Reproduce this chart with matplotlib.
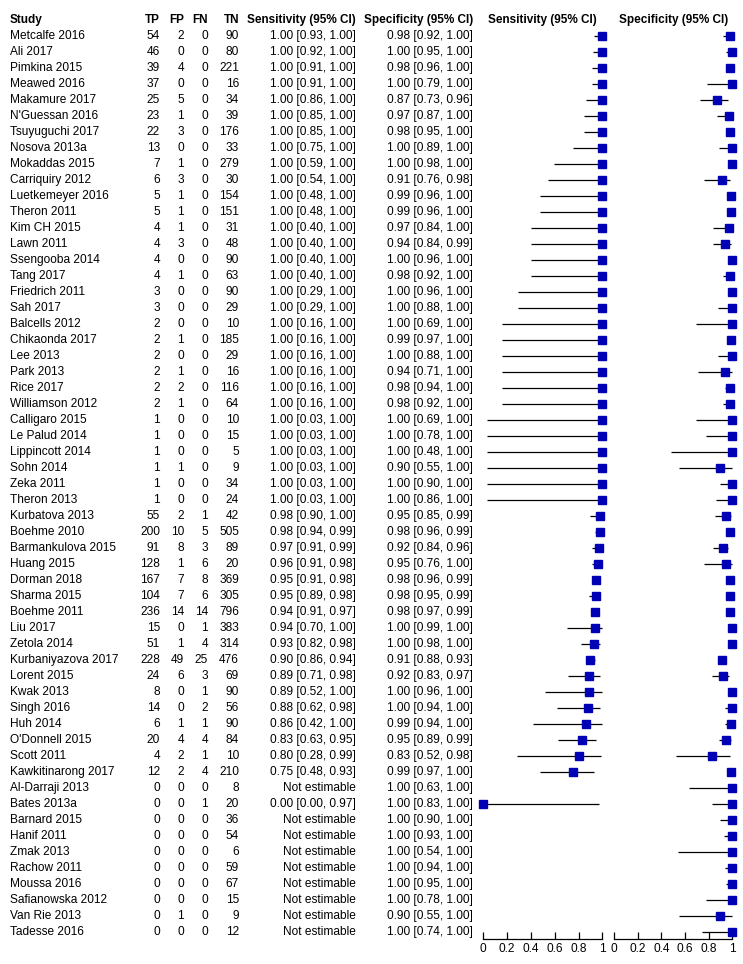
import numpy as np
import matplotlib
matplotlib.use("Agg")
import matplotlib.pyplot as plt

nan = np.nan

studies = ["Metcalfe 2016", "Ali 2017", "Pimkina 2015", "Meawed 2016", "Makamure 2017",
           "N'Guessan 2016", "Tsuyuguchi 2017", "Nosova 2013a", "Mokaddas 2015", "Carriquiry 2012",
           "Luetkemeyer 2016", "Theron 2011", "Kim CH 2015", "Lawn 2011", "Ssengooba 2014",
           "Tang 2017", "Friedrich 2011", "Sah 2017", "Balcells 2012", "Chikaonda 2017",
           "Lee 2013", "Park 2013", "Rice 2017", "Williamson 2012", "Calligaro 2015",
           "Le Palud 2014", "Lippincott 2014", "Sohn 2014", "Zeka 2011", "Theron 2013",
           "Kurbatova 2013", "Boehme 2010", "Barmankulova 2015", "Huang 2015", "Dorman 2018",
           "Sharma 2015", "Boehme 2011", "Liu 2017", "Zetola 2014", "Kurbaniyazova 2017",
           "Lorent 2015", "Kwak 2013", "Singh 2016", "Huh 2014", "O'Donnell 2015",
           "Scott 2011", "Kawkitinarong 2017", "Al-Darraji 2013", "Bates 2013a", "Barnard 2015",
           "Hanif 2011", "Zmak 2013", "Rachow 2011", "Moussa 2016", "Safianowska 2012",
           "Van Rie 2013", "Tadesse 2016"]

tp = [54, 46, 39, 37, 25, 23, 22, 13, 7, 6, 5, 5, 4, 4, 4, 4, 3, 3, 2, 2, 2, 2, 2, 2, 1, 1, 1, 1, 1, 1,
      55, 200, 91, 128, 167, 104, 236, 15, 51, 228, 24, 8, 14, 6, 20, 4, 12, 0, 0, 0, 0, 0, 0, 0, 0, 0, 0]
fp = [2, 0, 4, 0, 5, 1, 3, 0, 1, 3, 1, 1, 1, 3, 0, 1, 0, 0, 0, 1, 0, 1, 2, 1, 0, 0, 0, 1, 0, 0,
      2, 10, 8, 1, 7, 7, 14, 0, 1, 49, 6, 0, 0, 1, 4, 2, 2, 0, 0, 0, 0, 0, 0, 0, 0, 1, 0]
fn = [0, 0, 0, 0, 0, 0, 0, 0, 0, 0, 0, 0, 0, 0, 0, 0, 0, 0, 0, 0, 0, 0, 0, 0, 0, 0, 0, 0, 0, 0,
      1, 5, 3, 6, 8, 6, 14, 1, 4, 25, 3, 1, 2, 1, 4, 1, 4, 0, 1, 0, 0, 0, 0, 0, 0, 0, 0]
tn = [90, 80, 221, 16, 34, 39, 176, 33, 279, 30, 154, 151, 31, 48, 90, 63, 90, 29, 10, 185,
      29, 16, 116, 64, 10, 15, 5, 9, 34, 24,
      42, 505, 89, 20, 369, 305, 796, 383, 314, 476, 69, 90, 56, 90, 84, 10, 210,
      8, 20, 36, 54, 6, 59, 67, 15, 9, 12]

sens = [1.00] * 30 + [0.98, 0.98, 0.97, 0.96, 0.95, 0.95, 0.94, 0.94, 0.93, 0.90,
                      0.89, 0.89, 0.88, 0.86, 0.83, 0.80, 0.75,
                      nan, 0.00, nan, nan, nan, nan, nan, nan, nan, nan]
sens_lo = [0.93, 0.92, 0.91, 0.91, 0.86, 0.85, 0.85, 0.75, 0.59, 0.54, 0.48, 0.48, 0.40, 0.40, 0.40,
           0.40, 0.29, 0.29, 0.16, 0.16, 0.16, 0.16, 0.16, 0.16, 0.03, 0.03, 0.03, 0.03, 0.03, 0.03,
           0.90, 0.94, 0.91, 0.91, 0.91, 0.89, 0.91, 0.70, 0.82, 0.86, 0.71, 0.52, 0.62, 0.42, 0.63,
           0.28, 0.48, nan, 0.00, nan, nan, nan, nan, nan, nan, nan, nan]
sens_hi = [1.00] * 30 + [1.00, 0.99, 0.99, 0.98, 0.98, 0.98, 0.97, 1.00, 0.98, 0.94,
                         0.98, 1.00, 0.98, 1.00, 0.95, 0.99, 0.93,
                         nan, 0.97, nan, nan, nan, nan, nan, nan, nan, nan]

spec = [0.98, 1.00, 0.98, 1.00, 0.87, 0.97, 0.98, 1.00, 1.00, 0.91, 0.99, 0.99, 0.97, 0.94, 1.00,
        0.98, 1.00, 1.00, 1.00, 0.99, 1.00, 0.94, 0.98, 0.98, 1.00, 1.00, 1.00, 0.90, 1.00, 1.00,
        0.95, 0.98, 0.92, 0.95, 0.98, 0.98, 0.98, 1.00, 1.00, 0.91, 0.92, 1.00, 1.00, 0.99, 0.95,
        0.83, 0.99, 1.00, 1.00, 1.00, 1.00, 1.00, 1.00, 1.00, 1.00, 0.90, 1.00]
spec_lo = [0.92, 0.95, 0.96, 0.79, 0.73, 0.87, 0.95, 0.89, 0.98, 0.76, 0.96, 0.96, 0.84, 0.84, 0.96,
           0.92, 0.96, 0.88, 0.69, 0.97, 0.88, 0.71, 0.94, 0.92, 0.69, 0.78, 0.48, 0.55, 0.90, 0.86,
           0.85, 0.96, 0.84, 0.76, 0.96, 0.95, 0.97, 0.99, 0.98, 0.88, 0.83, 0.96, 0.94, 0.94, 0.89,
           0.52, 0.97, 0.63, 0.83, 0.90, 0.93, 0.54, 0.94, 0.95, 0.78, 0.55, 0.74]
spec_hi = [1.00, 1.00, 1.00, 1.00, 0.96, 1.00, 1.00, 1.00, 1.00, 0.98, 1.00, 1.00, 1.00, 0.99, 1.00,
           1.00, 1.00, 1.00, 1.00, 1.00, 1.00, 1.00, 1.00, 1.00, 1.00, 1.00, 1.00, 1.00, 1.00, 1.00,
           0.99, 0.99, 0.96, 1.00, 0.99, 0.99, 0.99, 1.00, 1.00, 0.93, 0.97, 1.00, 1.00, 1.00, 0.99,
           0.98, 1.00, 1.00, 1.00, 1.00, 1.00, 1.00, 1.00, 1.00, 1.00, 1.00, 1.00]

tick_vals = [0, 0.2, 0.4, 0.6, 0.8, 1]
tick_labels = ["0", "0.2", "0.4", "0.6", "0.8", "1"]

plt.rcParams['font.family'] = ['Liberation Sans', 'DejaVu Sans']
FS = 8.6
HFS = 8.5
BLUE = "#0000b4"

W, H = 743, 964
fig = plt.figure(figsize=(W / 100, H / 100), dpi=100)

n = len(studies)
row_top, row_h = 36, 16
bottom_px, top_px = 939, 27
y0 = n - 1 + (bottom_px - (row_top + row_h * (n - 1))) / row_h
y1 = -(row_top - top_px) / row_h
ax_b = 1 - bottom_px / H
ax_h = (bottom_px - top_px) / H


def fmt(v, lo, hi):
    if np.isnan(v):
        return "Not estimable"
    return f"{v:.2f} [{lo:.2f}, {hi:.2f}]"


# table
tab = fig.add_axes([0, ax_b, 1, ax_h])
tab.set_xlim(0, W)
tab.set_ylim(y0, y1)
tab.axis("off")

hy = y1 - 0.45
cols = [("TP", 160), ("FP", 184), ("FN", 208), ("TN", 239),
        ("Sensitivity (95% CI)", 356), ("Specificity (95% CI)", 473)]
tab.text(10, hy, "Study", fontsize=HFS, fontweight="bold", va="center", ha="left", clip_on=False)
for name, xr in cols:
    tab.text(xr, hy, name, fontsize=HFS, fontweight="bold", va="center", ha="right", clip_on=False)

for i in range(n):
    tab.text(10, i, studies[i], fontsize=FS, va="center", ha="left")
    for val, (_, xr) in zip([tp[i], fp[i], fn[i], tn[i]], cols[:4]):
        tab.text(xr, i, str(val), fontsize=FS, va="center", ha="right")
    tab.text(cols[4][1], i, fmt(sens[i], sens_lo[i], sens_hi[i]), fontsize=FS, va="center", ha="right")
    tab.text(cols[5][1], i, fmt(spec[i], spec_lo[i], spec_hi[i]), fontsize=FS, va="center", ha="right")


def forest(left, width, val, lo, hi, title):
    ax = fig.add_axes([left / W, ax_b, width / W, ax_h])
    ax.set_xlim(0, 1)
    ax.set_ylim(y0, y1)
    ys = np.arange(n)
    ax.hlines(ys, lo, hi, color="black", lw=0.9, clip_on=False)
    ax.plot(val, ys, "s", ms=5.2, mfc=BLUE, mec=BLUE, lw=0, clip_on=False)
    for s in ["top", "left", "right"]:
        ax.spines[s].set_visible(False)
    ax.spines["bottom"].set_linewidth(0.9)
    ax.set_yticks([])
    ax.set_xticks(tick_vals)
    ax.set_xticklabels(tick_labels, fontsize=FS)
    ax.tick_params(axis="x", direction="in", length=5, width=0.9, pad=3)
    ax.set_facecolor("none")
    ax.text(0.5, hy, title, transform=ax.get_yaxis_transform(), fontsize=HFS,
            fontweight="bold", ha="center", va="center", clip_on=False)
    return ax


forest(483.3, 119, sens, sens_lo, sens_hi, "Sensitivity (95% CI)")
forest(614, 118.3, spec, spec_lo, spec_hi, "Specificity (95% CI)")

fig.savefig("out.png", dpi=100)
